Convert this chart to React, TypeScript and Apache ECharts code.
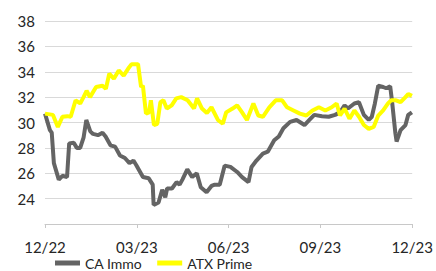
import React, { useEffect, useRef } from "react";
import * as echarts from "echarts";

// x = months since end of Dec 2022
const caImmoMonths = [0, 0.16, 0.22, 0.29, 0.45, 0.57, 0.72, 0.79, 0.94, 1.04, 1.15, 1.26, 1.35, 1.48, 1.57, 1.73, 1.88, 1.98, 2.14, 2.29, 2.45, 2.61, 2.76, 2.89, 2.98, 3.2, 3.39, 3.52, 3.55, 3.71, 3.83, 3.93, 3.99, 4.15, 4.3, 4.4, 4.49, 4.65, 4.81, 4.96, 5.09, 5.28, 5.44, 5.55, 5.71, 5.87, 6.06, 6.28, 6.44, 6.65, 6.75, 6.91, 7.12, 7.28, 7.49, 7.64, 7.79, 8.01, 8.22, 8.48, 8.64, 8.8, 9.05, 9.27, 9.48, 9.64, 9.79, 9.9, 10.11, 10.26, 10.42, 10.58, 10.68, 10.78, 10.89, 11.05, 11.15, 11.28, 11.34, 11.45, 11.49, 11.62, 11.78, 11.87, 11.99];
const caImmoValues = [30.7, 29.4, 29.2, 26.8, 25.5, 25.8, 25.7, 28.35, 28.4, 28.0, 28.0, 28.8, 30.2, 29.3, 29.1, 29.0, 29.2, 28.9, 28.2, 28.1, 27.4, 27.2, 26.8, 27.0, 26.65, 25.7, 25.6, 25.1, 23.5, 23.7, 24.7, 24.1, 24.8, 24.8, 25.3, 25.1, 25.5, 26.3, 25.7, 26.0, 24.9, 24.5, 25.0, 25.1, 25.1, 26.6, 26.5, 26.1, 25.7, 25.3, 26.5, 27.0, 27.55, 27.7, 28.6, 28.9, 29.55, 30.05, 30.2, 29.8, 30.2, 30.6, 30.5, 30.45, 30.6, 30.8, 31.35, 31.1, 31.5, 31.6, 30.6, 30.2, 30.45, 31.5, 32.9, 32.8, 32.7, 32.85, 31.7, 29.15, 28.5, 29.4, 29.8, 30.6, 30.8];

const atxMonths = [0, 0.26, 0.42, 0.57, 0.73, 0.84, 1.0, 1.15, 1.26, 1.36, 1.47, 1.67, 1.88, 1.99, 2.1, 2.25, 2.41, 2.57, 2.72, 2.83, 3.04, 3.14, 3.2, 3.3, 3.4, 3.46, 3.56, 3.67, 3.77, 3.87, 3.98, 4.14, 4.29, 4.45, 4.66, 4.87, 4.97, 5.13, 5.29, 5.44, 5.65, 5.81, 5.92, 6.13, 6.28, 6.44, 6.6, 6.81, 6.97, 7.12, 7.33, 7.54, 7.75, 7.91, 8.12, 8.33, 8.54, 8.74, 8.95, 9.16, 9.37, 9.53, 9.64, 9.79, 9.95, 10.11, 10.26, 10.42, 10.58, 10.74, 10.89, 11.05, 11.21, 11.31, 11.47, 11.62, 11.78, 11.87, 11.99];
const atxValues = [30.7, 30.6, 29.65, 30.45, 30.5, 30.45, 31.75, 31.5, 32.0, 32.5, 32.0, 32.8, 32.9, 32.65, 33.85, 33.45, 34.1, 33.7, 34.25, 34.6, 34.6, 32.8, 32.9, 30.7, 30.8, 31.75, 29.8, 29.9, 31.6, 31.75, 31.1, 31.35, 31.9, 32.0, 31.75, 31.1, 31.9, 31.1, 30.75, 31.2, 30.2, 29.9, 30.8, 31.1, 31.35, 30.8, 30.2, 31.5, 30.55, 30.45, 31.2, 31.75, 31.75, 31.2, 30.95, 30.7, 30.55, 30.95, 31.2, 30.95, 31.2, 31.5, 30.55, 31.1, 30.3, 30.95, 30.45, 29.8, 29.5, 29.65, 30.55, 30.95, 31.5, 31.75, 31.75, 31.6, 32.0, 32.25, 32.1];

const xTickLabels = ["12/22", "03/23", "06/23", "09/23", "12/23"];
const seriesNames = ["CA Immo", "ATX Prime"];

const FONT = "Lato, 'Open Sans', sans-serif";

export default function App() {
  const ref = useRef<HTMLDivElement>(null);
  useEffect(() => {
    if (!ref.current) return;
    const chart = echarts.init(ref.current, null, { renderer: "svg" });
    chart.setOption({
      animation: false,
      textStyle: { fontFamily: FONT },
      grid: { left: 45, right: 9, top: 21, bottom: 47 },
      legend: {
        data: seriesNames,
        left: 55,
        top: 256,
        padding: 0,
        itemWidth: 25,
        itemHeight: 5,
        itemGap: 15,
        icon: "rect",
        textStyle: { fontSize: 14, lineHeight: 14, color: "#262626", fontFamily: FONT },
      },
      xAxis: {
        type: "value",
        min: 0,
        max: 12,
        interval: 3,
        axisLine: { show: true, lineStyle: { color: "#c8c8c8", width: 1 } },
        axisTick: { show: true, length: 4, lineStyle: { color: "#c8c8c8" } },
        splitLine: { show: false },
        axisLabel: {
          fontSize: 15,
          lineHeight: 15,
          color: "#262626",
          margin: 15,
          formatter: (v: number) => xTickLabels[Math.round(v / 3)] ?? "",
        },
      },
      yAxis: {
        type: "value",
        min: 22,
        max: 38,
        interval: 2,
        axisLine: { show: false },
        axisTick: { show: false },
        splitLine: { lineStyle: { color: "#d9d9d9", width: 1 } },
        axisLabel: {
          fontSize: 15,
          color: "#262626",
          margin: 10,
          formatter: (v: number) => (v === 22 ? "" : String(v)),
        },
      },
      series: [
        {
          name: seriesNames[0],
          type: "line",
          showSymbol: false,
          data: caImmoMonths.map((m, i) => [m, caImmoValues[i]]),
          lineStyle: { color: "#646464", width: 4 },
          itemStyle: { color: "#646464" },
        },
        {
          name: seriesNames[1],
          type: "line",
          showSymbol: false,
          data: atxMonths.map((m, i) => [m, atxValues[i]]),
          lineStyle: { color: "#ffff00", width: 4 },
          itemStyle: { color: "#ffff00" },
        },
      ],
    });
    return () => chart.dispose();
  }, []);
  return <div ref={ref} style={{ width: 436, height: 271, position: "absolute", left: 0, top: 0 }} />;
}
